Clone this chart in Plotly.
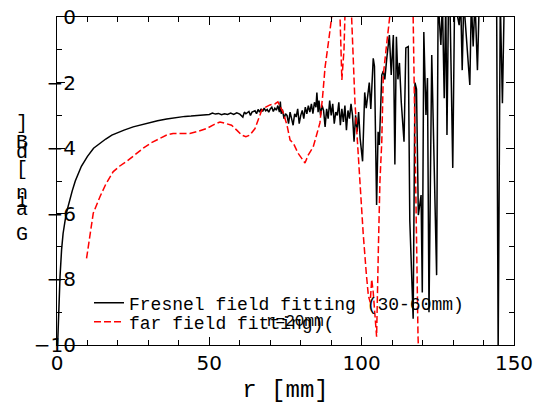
import plotly.graph_objects as go

# ---- data ----
fresnel_r = [0.2, 0.5, 1.0, 1.5, 2.0, 3.0, 4.0, 5.0, 6.0, 7.0, 8.0, 9.0, 10, 12, 14, 16, 18, 20, 22, 25, 28, 30, 33, 36, 38, 40, 42, 44, 46, 48, 50,
             51, 52, 53, 54, 55, 56, 57, 58, 59, 60, 61, 61.5, 62, 63, 63.5, 64, 65, 65.5, 66, 66.5, 67, 67.5, 68, 68.5, 69, 69.5, 70,
             70.5, 71, 71.5, 72, 72.5, 73, 73.3, 73.6, 74, 74.5, 75, 75.5, 76, 76.5, 77, 77.5, 78, 78.5, 79, 79.5, 80, 80.5, 81, 81.5,
             82, 82.5, 83, 83.5, 84, 84.5, 85, 85.3, 85.7, 86, 86.5, 87, 87.5, 88, 88.5, 89, 89.5, 90, 90.5, 91, 91.5, 92, 92.5, 93,
             93.5, 94, 94.5, 95, 95.5, 96, 96.5, 97, 97.5, 98, 98.5, 99, 99.5, 100.3, 101, 101.5, 102.5, 103, 103.8, 104.2, 104.9,
             105.4, 105.8, 106.6, 107.1, 107.6, 108.2, 109.1, 109.7, 110.4, 110.9, 111.4, 111.9, 112.4, 113, 113.9, 114.5, 115.3,
             115.8, 116.9, 117.5, 118.0, 118.6, 119.5, 119.9, 120.4, 121.1, 121.6, 122.1, 123, 124.6, 125.1, 126, 126.5, 127.1,
             127.6, 128, 128.5, 129, 129.9, 130.5, 132, 132.5, 133, 133.5, 135.5, 136, 136.6, 137.2, 138, 138.6, 144.3, 144.8,
             145.5, 146.2, 146.8, 150]
fresnel_g = [-10.0, -9.0, -7.9, -7.1, -6.6, -6.0, -5.6, -5.3, -5.0, -4.75, -4.55, -4.4, -4.25, -4.0, -3.85, -3.72, -3.6, -3.52, -3.45, -3.35,
             -3.27, -3.22, -3.16, -3.11, -3.08, -3.06, -3.03, -3.02, -3.0, -2.99, -2.97,
             -2.93, -2.96, -2.94, -2.98, -2.95, -2.97, -2.93, -2.97, -2.92, -2.96, -3.05, -2.9, -2.95, -2.88, -3.0, -2.9, -2.86, -2.95,
             -2.82, -2.9, -2.8, -2.88, -2.78, -2.86, -2.82, -2.9, -2.8,
             -2.75, -2.88, -2.78, -2.84, -2.7, -2.9, -2.58, -2.95,
             -2.82, -3.1, -2.95, -3.0, -3.25, -2.9, -3.1, -3.3, -2.95, -3.05, -2.8, -3.25, -3.0, -2.85, -3.1, -2.75,
             -2.95, -2.7, -2.9, -2.65, -2.95, -2.6, -2.75, -2.3, -2.9, -2.55, -3.0, -2.7, -2.85, -3.35, -2.8, -3.1, -2.55, -3.0,
             -2.65, -3.25, -2.9, -3.0, -2.6, -3.3,
             -2.8, -3.2, -2.7, -3.45, -2.85, -3.1, -2.65, -3.0, -3.8,
             -3.0, -3.5, -2.9, -3.7, -4.4, -2.3, -2.78, -2.0, -2.8, -1.26, -1.5,
             -5.73,
             -3.5, -3.9, -1.77, -1.65, -1.9, -1.3, -0.55, -1.77, -0.55, -4.5, -0.6, -1.9, -1.4, -2.6, -3.8, -0.94, -0.9,
             -6.2, -9.2, -2.0, -2.2, -6.04, -5.43, -8.4, -0.46, -2.99, -1.86, -9.0, -1.16, -7.87, 0.5, -0.85, 0.5, -2.48,
             0.5, -3.6, 0.5, 0.3, -4.6, 0.5, -0.25, 0.5, -1.62, 0.5, -2.07, 0.5, -0.9, 0.5, -1.62, 0.5, 0.5, -10.2,
             0.5, -2.63, 0.5, 0.5]

far_r = [9.7, 11.9, 14.1, 16, 18.4, 20.5, 22.9, 25.5, 28.3, 31, 33.8, 36, 38.1, 41, 43.6, 46.5, 49.1, 51.5, 53.5, 55.5, 57.3, 59,
         60.6, 62, 63.3, 65, 67.2, 68.5, 69.9, 71.5, 72.5, 74.2, 75.5, 76.5, 77.6, 79.1, 80.5, 81.4, 82.5, 84.1, 85.2, 86.3, 87.2,
         88, 89.2, 90.2, 91.5, 92.9, 93.5, 94.2, 94.5, 95.5, 96.7, 97.8, 98.4, 99.5, 100.5, 101.5, 102.2, 102.8, 103.3, 103.8,
         104.9, 105.5, 106.0, 106.6, 107.1, 108.0, 109.1, 111, 113, 115, 116.9, 118.5, 119]
far_g = [-7.36, -5.98, -5.48, -5.1, -4.72, -4.55, -4.4, -4.2, -4.0, -3.83, -3.7, -3.6, -3.55, -3.55, -3.55, -3.48, -3.4, -3.28, -3.2,
         -3.25, -3.3, -3.45, -3.6, -3.65, -3.6, -3.4, -2.84, -2.75, -2.68, -2.65, -2.59, -2.9, -3.3, -3.75, -3.85, -4.15, -4.35, -4.45,
         -4.2, -3.96, -3.6, -3.23, -2.4, -1.52, -0.7, 0.0, 1.0, 0.0, -1.92, -1.0, 0.0, 1.0, 0.0, -2.6, -3.55, -5.0, -6.6, -7.8, -8.5,
         -8.7, -8.0, -8.4, -9.75, -7.0, -5.0, -3.8, -1.77, -1.0, 0.0, 1.5, 2.0, 1.5, 0.0, -9.75, -11]

x_ticks = [0, 50, 100, 150]
y_ticks = [0, -2, -4, -6, -8, -10]
ylabel_chars = ["G", "a", "i", "n", "[", "d", "B", "]"]
ylabel_py = [234, 209, 201, 193, 169, 152, 142, 124]

# ---- figure ----
fig = go.Figure()
fig.add_trace(go.Scatter(x=fresnel_r, y=fresnel_g, mode="lines",
                         line=dict(color="black", width=1.5),
                         name="Fresnel field fitting (30-60mm)", legend="legend"))
fig.add_trace(go.Scatter(x=far_r, y=far_g, mode="lines",
                         line=dict(color="red", width=1.5, dash="7px,3px"),
                         name="far field fitting)(", legend="legend2"))

L, R, T, B = 57, 38, 17, 59
W, H = 552, 404
pw, ph = W - L - R, H - T - B

def px2x(px):
    return (px - L) / pw

def py2y(py):
    return (H - B - py) / ph

annotations = []
for ch, py in zip(ylabel_chars, ylabel_py):
    annotations.append(dict(text=ch, xref="paper", yref="paper", x=px2x(22), y=py2y(py),
                            showarrow=False, xanchor="center", yanchor="middle",
                            font=dict(family="Liberation Mono", size=20, color="black")))
annotations.append(dict(text="r=20mm", xref="paper", yref="paper", x=px2x(264), y=py2y(322),
                        showarrow=False, xanchor="left", yanchor="middle",
                        font=dict(family="Liberation Mono", size=16, color="black")))

axis_common = dict(ticks="inside", tickcolor="black", ticklen=8, tickwidth=1,
                   showline=True, linecolor="black", linewidth=1, mirror="ticks",
                   showgrid=False, zeroline=False, automargin=False,
                   tickfont=dict(family="DejaVu Sans", size=20, color="black"))

leg_common = dict(xanchor="left", yanchor="middle", bgcolor="rgba(0,0,0,0)",
                  font=dict(family="Liberation Mono", size=18, color="black"),
                  itemwidth=30, tracegroupgap=0)

fig.update_layout(
    width=W, height=H,
    margin=dict(l=L, r=R, t=T, b=B, pad=0, autoexpand=False),
    paper_bgcolor="white", plot_bgcolor="white",
    showlegend=True,
    legend=dict(x=px2x(89), y=py2y(303), **leg_common),
    legend2=dict(x=px2x(89), y=py2y(322), **leg_common),
    xaxis=dict(range=[0, 150], tickvals=x_ticks, ticktext=[str(v) for v in x_ticks],
               minor=dict(dtick=10, tick0=0, ticks="inside", ticklen=5, tickcolor="black"),
               title=dict(text="r [mm]", standoff=10,
                          font=dict(family="Liberation Mono", size=24, color="black")),
               **axis_common),
    yaxis=dict(range=[-10, 0], tickvals=y_ticks, ticktext=[("\u2212" + str(-v)) if v < 0 else str(v) for v in y_ticks],
               minor=dict(dtick=1, tick0=0, ticks="inside", ticklen=5, tickcolor="black"),
               ticklabelstandoff=-24,
               **axis_common),
    annotations=annotations,
)

fig.write_html("out.html", config={"displayModeBar": False},
               post_script="document.body.style.margin='0';document.body.style.overflow='hidden';")
